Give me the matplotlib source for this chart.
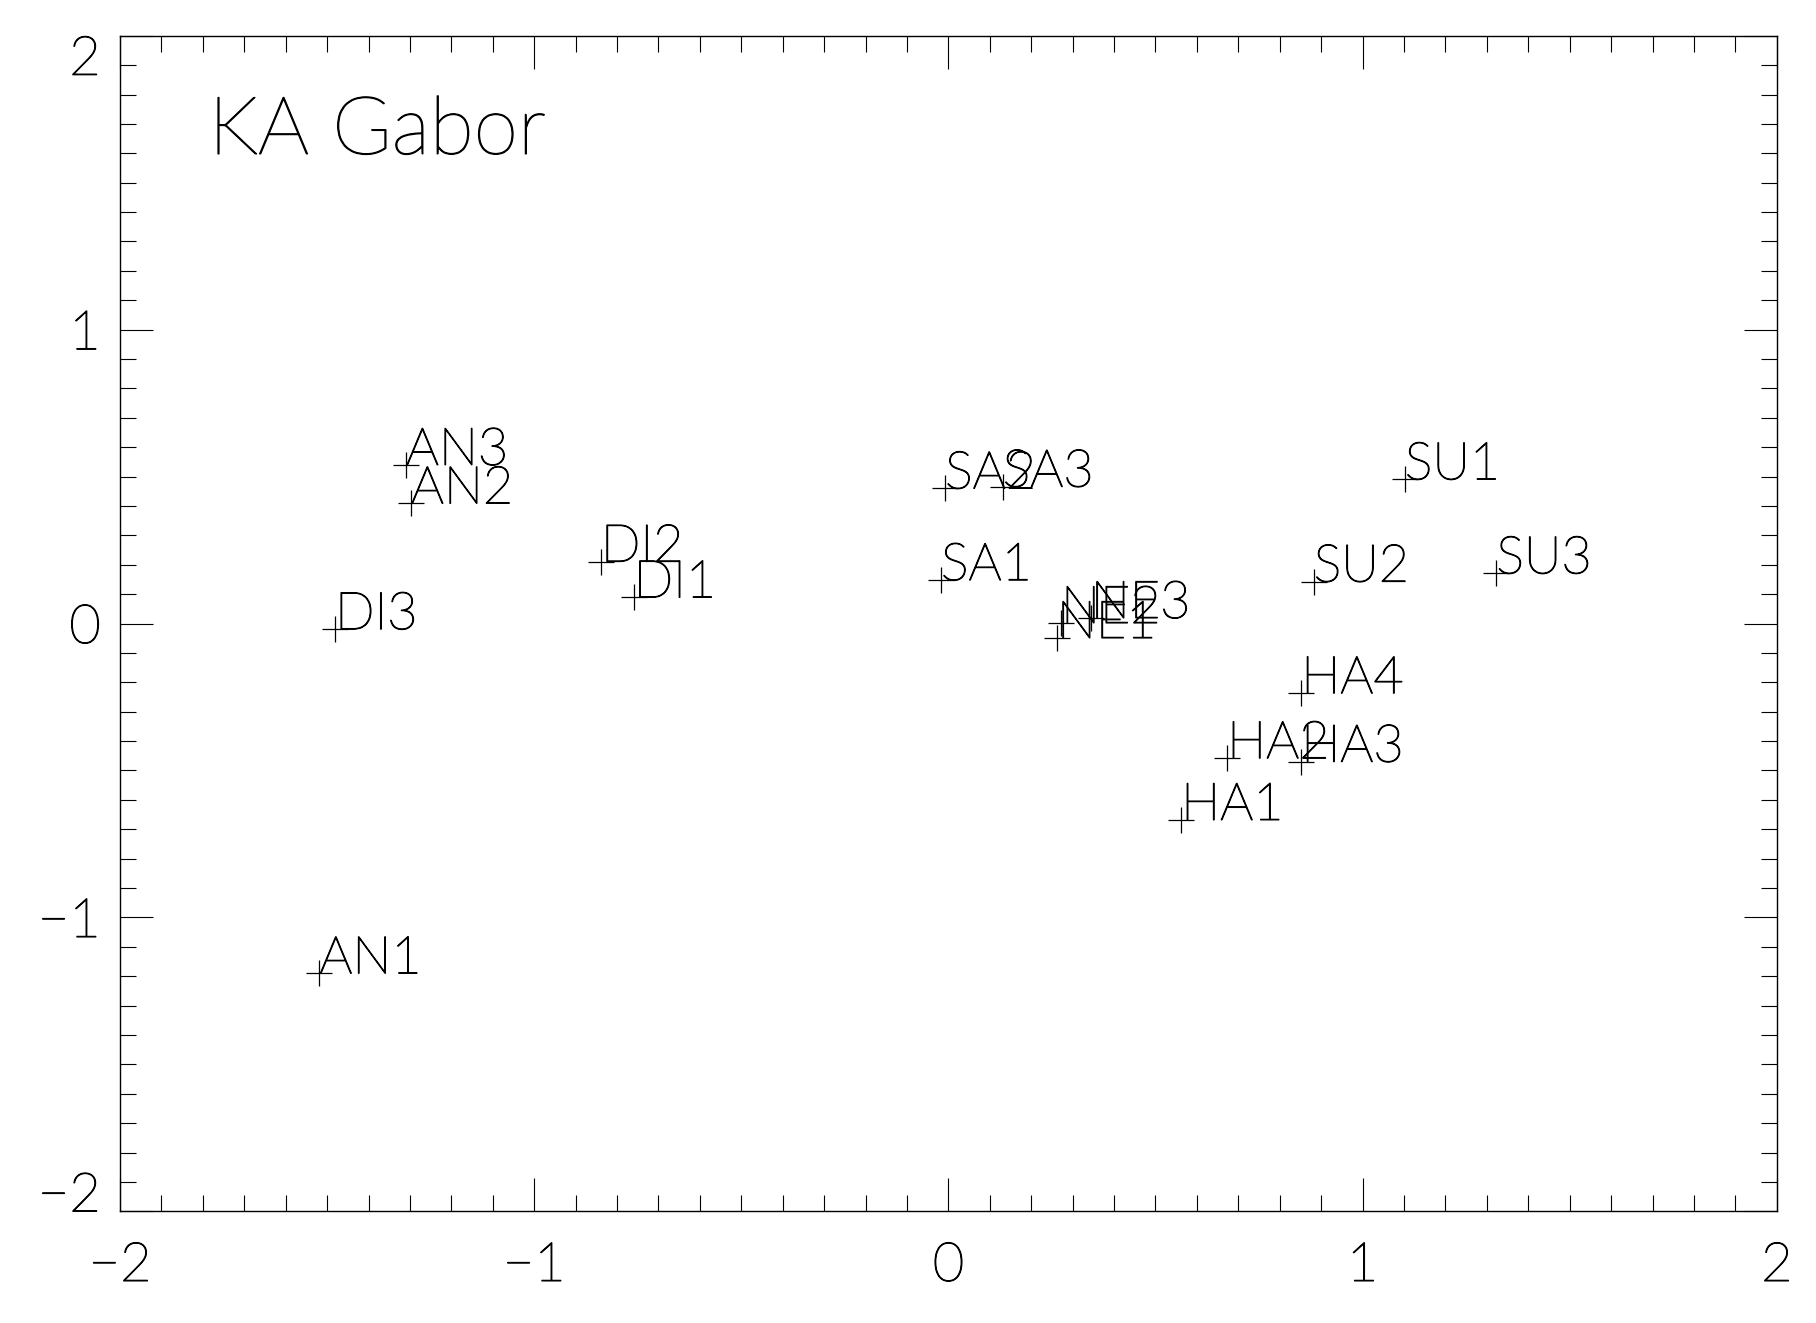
import matplotlib
matplotlib.use("Agg")
import matplotlib.pyplot as plt
import matplotlib.patheffects as pe
from matplotlib.ticker import MultipleLocator

# Data
names = ['AN1', 'AN2', 'AN3', 'DI1', 'DI2', 'DI3', 'HA1', 'HA2', 'HA3', 'HA4',
         'NE1', 'NE2', 'NE3', 'SA1', 'SA2', 'SA3', 'SU1', 'SU2', 'SU3']
xs = [-1.519, -1.298, -1.310, -0.760, -0.839, -1.481, 0.562, 0.673, 0.852, 0.852,
      0.262, 0.272, 0.344, -0.018, -0.008, 0.131, 1.102, 0.882, 1.323]
ys = [-1.190, 0.409, 0.540, 0.089, 0.211, -0.019, -0.668, -0.458, -0.470, -0.237,
      -0.049, 0.002, 0.019, 0.148, 0.460, 0.466, 0.491, 0.143, 0.171]
tick_vals = [-2, -1, 0, 1, 2]
title = "KA Gabor"

plt.rcParams['font.family'] = ['Lato', 'DejaVu Sans']
plt.rcParams['font.weight'] = 'light'

# thin black outline so the light glyphs read as solid black strokes
ink = [pe.withStroke(linewidth=0.9, foreground='black')]

fig = plt.figure(figsize=(18.16, 13.23), dpi=100)
ax = fig.add_axes([0.0661, 0.0844, 0.9123, 0.8886])

ax.plot(xs, ys, linestyle='none', marker='+', markersize=19, mew=0.9, color='black')
for n, x, y in zip(names, xs, ys):
    ax.text(x, y, n, fontsize=37.5, ha='left', va='baseline', color='black',
            path_effects=ink)

ax.text(-1.786, 1.598, title, fontsize=58, ha='left', va='baseline', color='black',
        path_effects=ink)

ax.set_xlim(-2, 2)
ax.set_ylim(-2, 2)
ax.set_xticks(tick_vals)
ax.set_yticks(tick_vals)
ax.xaxis.set_minor_locator(MultipleLocator(0.1))
ax.yaxis.set_minor_locator(MultipleLocator(0.1))

ax.tick_params(which='both', direction='in', top=True, right=True, width=0.8, color='black')
ax.tick_params(which='major', length=24, labelsize=39)
ax.tick_params(which='minor', length=11.5)
ax.tick_params(axis='x', which='major', pad=22)
ax.tick_params(axis='y', which='major', pad=14)

for sp in ax.spines.values():
    sp.set_linewidth(1.0)

# keep the end labels of the y axis inside the frame, like the original
ylabels = ax.get_yticklabels()
ylabels[0].set_verticalalignment('baseline')
ylabels[-1].set_verticalalignment('top')
for lab in ax.get_xticklabels() + ylabels:
    lab.set_path_effects(ink)

fig.savefig("out.png", dpi=100)
